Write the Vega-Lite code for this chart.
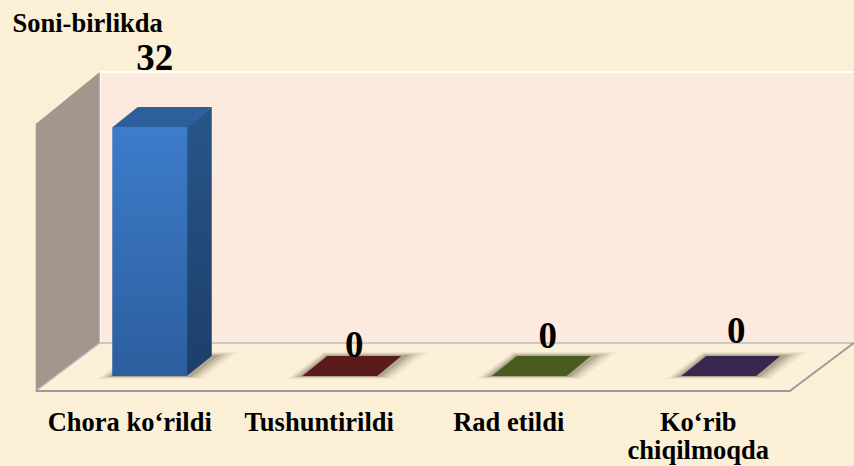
{"$schema":"https://vega.github.io/schema/vega-lite/v6.json","width":854,"height":400,"autosize":"none","padding":{"left":0,"top":0,"right":0,"bottom":66},"background":"#fbefd6","view":{"stroke":null},
"config":{"font":"Liberation Serif"},
"datasets":{"rows":[{"category":"Chora ko‘rildi","value":32},{"category":"Tushuntirildi","value":0},{"category":"Rad etildi","value":0},{"category":"Ko‘rib chiqilmoqda","value":0}],"floor":[{"category":"Chora ko‘rildi","value":0},{"category":"Tushuntirildi","value":0},{"category":"Rad etildi","value":0},{"category":"Ko‘rib chiqilmoqda","value":0}],"frame":[{"category":"Chora ko‘rildi","value":0}]},
"data":{"name":"rows"},
"encoding":{"x":{"field":"category","type":"nominal","sort":null,"scale":{"domain":["Chora ko‘rildi","Tushuntirildi","Rad etildi","Ko‘rib chiqilmoqda"],"range":[55,813],"paddingInner":0,"paddingOuter":0},"axis":{"title":null,"domain":false,"ticks":false,"labelAngle":0,"labelOffset":-20,"labelPadding":9,"labelFontSize":26.5,"labelFontWeight":"bold","labelColor":"#000","labelLineHeight":28,"labelFont":"Liberation Serif","labelLimit":300,"labelExpr":"datum.label == 'Ko‘rib chiqilmoqda' ? ['Ko‘rib','chiqilmoqda'] : datum.label"}},
"y":{"field":"value","type":"quantitative","scale":{"domain":[-3.085,48.33],"zero":false,"nice":false},"axis":{"grid":false,"domain":false,"ticks":false,"labels":false,"title":"Soni-birlikda","titleAngle":0,"titleX":12,"titleY":31,"titleAlign":"left","titleBaseline":"alphabetic","titleFontSize":26.5,"titleFontWeight":"bold","titleColor":"#000","titleFont":"Liberation Serif"}}},
"layer":[
{"data":{"name":"frame"},"mark":{"type":"point","filled":true,"opacity":1,"size":4,"fill":"#fdeade","shape":"M-50,-304L704,-304L704,-33L-50,-33Z"}},
{"data":{"name":"frame"},"mark":{"type":"point","filled":false,"opacity":1,"size":4,"stroke":"#ffffff","strokeWidth":2,"shape":"M-50,-33L-50,-304L704,-304"}},
{"data":{"name":"frame"},"mark":{"type":"point","filled":true,"opacity":1,"size":4,"fill":"#a3968c","shape":"M-114,-252L-50,-304L-50,-33L-114,15Z"}},
{"data":{"name":"frame"},"mark":{"type":"point","filled":true,"opacity":1,"size":4,"fill":"#fcf0d8","shape":"M-114,15L-50,-33L704,-33L640,15Z"}},
{"data":{"name":"frame"},"mark":{"type":"point","filled":false,"opacity":1,"size":4,"stroke":"#b9bcc2","strokeWidth":1.5,"shape":"M-114,15L-50,-33L704,-33"}},
{"data":{"name":"frame"},"mark":{"type":"point","filled":false,"opacity":1,"size":4,"stroke":"#9b9b9b","strokeWidth":2,"shape":"M-114,15L640,15L704,-33"}},
{"data":{"name":"floor"},"mark":{"type":"point","filled":true,"opacity":0.07,"size":4,"fill":"#4a4232","shape":"M-52,3L52,3L88,-24L-16,-24Z"}},
{"data":{"name":"floor"},"mark":{"type":"point","filled":true,"opacity":0.1,"size":4,"fill":"#4a4232","shape":"M-48,2L49,2L82,-23L-15,-23Z"}},
{"data":{"name":"floor"},"mark":{"type":"point","filled":true,"opacity":0.14,"size":4,"fill":"#4a4232","shape":"M-44,1L46,1L76,-22L-14,-22Z"}},
{"data":{"name":"floor"},"mark":{"type":"point","filled":true,"opacity":0.2,"size":4,"fill":"#4a4232","shape":"M-41,1L42,1L70,-21L-13,-21Z"}},
{"transform":[{"filter":"datum.value > 0"}],"mark":{"type":"point","filled":true,"opacity":1,"size":4,"fill":{"x1":0,"y1":0,"x2":0,"y2":1,"gradient":"linear","stops":[{"offset":0,"color":"#285689"},{"offset":1,"color":"#1d3e6a"}]},"shape":"M37,0L62,-20L62,229L37,249Z"}},
{"transform":[{"filter":"datum.value > 0"}],"mark":{"type":"bar","width":75,"fill":{"x1":0,"y1":0,"x2":0,"y2":1,"gradient":"linear","stops":[{"offset":0,"color":"#3d7cca"},{"offset":1,"color":"#2c5e9e"}]}},"encoding":{"y2":{"datum":0}}},
{"mark":{"type":"point","filled":true,"opacity":1,"size":4,"shape":"M-37,0L38,0L62,-20L-12,-20Z"},"encoding":{"color":{"field":"category","type":"nominal","legend":null,"scale":{"domain":["Chora ko‘rildi","Tushuntirildi","Rad etildi","Ko‘rib chiqilmoqda"],"range":["#2c5f9b","#5b1a1b","#4a5b20","#382850"]}}}},
{"mark":{"type":"text","font":"Liberation Serif","fontWeight":"bold","fontSize":37,"color":"#000","baseline":"alphabetic","align":"center","dx":{"expr":"datum.category=='Chora ko‘rildi'?5:datum.category=='Tushuntirildi'?15:datum.category=='Rad etildi'?19:18"},"dy":{"expr":"datum.category=='Chora ko‘rildi'?-57:datum.category=='Tushuntirildi'?-19:datum.category=='Rad etildi'?-28:-33"}},"encoding":{"text":{"field":"value","type":"quantitative"}}}
]}
